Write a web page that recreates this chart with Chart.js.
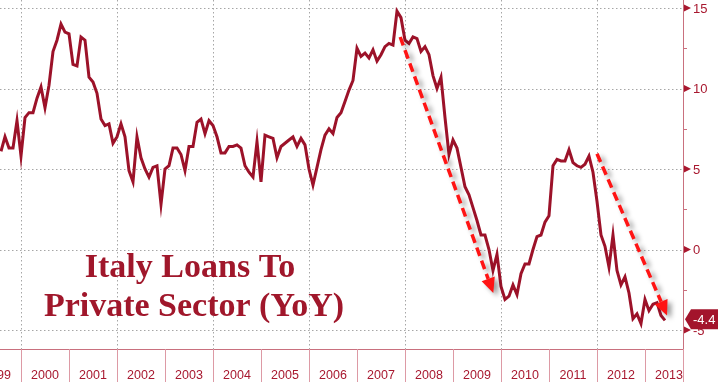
<!DOCTYPE html>
<html>
<head>
<meta charset="utf-8">
<title>Italy Loans To Private Sector (YoY)</title>
<script src="https://cdn.jsdelivr.net/npm/chart.js@4.4.1/dist/chart.umd.min.js"></script>
<style>
  html, body { margin: 0; padding: 0; background: #fff; }
  canvas { display: block; }
</style>
</head>
<body>
<canvas id="loansChart" width="718" height="382"></canvas>
<script>
// Italy - loans to private sector, YoY %, monthly from Aug 1999
const startYear = 1999;
const startMonth = 8;
const loansYoY = [
    6.1, 7.0, 6.3, 6.3, 8.0,                                              // 1999
    5.8, 8.2, 8.5, 8.5, 9.4, 10.1, 8.8, 10.2, 12.3, 13.0, 14.0, 13.5,     // 2000
    13.4, 11.5, 11.4, 13.2, 13.0, 10.7, 10.4, 9.7, 8.1, 7.7, 7.8, 6.6,    // 2001
    7.0, 7.8, 7.0, 4.9, 4.2, 7.0, 5.7, 5.0, 4.5, 5.1, 5.2, 2.8,           // 2002
    5.0, 5.2, 6.3, 6.3, 5.9, 4.9, 6.4, 6.4, 7.9, 8.1, 7.2, 8.0,           // 2003
    7.7, 7.0, 6.0, 6.0, 6.4, 6.4, 6.5, 6.3, 5.2, 4.8, 4.5, 6.7,           // 2004
    4.2, 7.1, 7.0, 6.9, 5.7, 6.4, 6.6, 6.8, 7.0, 6.4, 6.9, 6.5,           // 2005
    5.0, 4.0, 5.1, 6.2, 7.1, 7.5, 7.2, 8.2, 8.5, 9.2, 9.9, 10.5,          // 2006
    12.5, 12.0, 12.2, 11.9, 12.4, 11.7, 12.1, 12.6, 12.8, 12.7, 14.8, 14.4, // 2007
    13.0, 12.8, 13.2, 13.1, 12.3, 12.6, 12.1, 10.8, 10.0, 10.7, 8.2, 5.9, // 2008
    6.8, 6.3, 5.1, 3.9, 3.4, 2.6, 1.8, 0.9, 0.9, 0.0, -1.3, -0.3,         // 2009
    -2.3, -3.1, -2.9, -2.2, -2.8, -1.5, -0.9, -0.9, 0.0, 0.8, 0.9, 1.7,   // 2010
    2.1, 5.2, 5.6, 5.5, 5.5, 6.2, 5.4, 5.2, 5.1, 5.3, 5.8, 4.8,           // 2011
    3.0, 0.9, 0.2, -1.1, 0.9, -1.3, -2.2, -1.7, -2.7, -4.3, -4.0, -4.6,   // 2012
    -3.1, -3.8, -3.4, -3.3, -4.1, -4.4                                    // 2013
];

const yearLabels = [1999, 2000, 2001, 2002, 2003, 2004, 2005, 2006, 2007, 2008, 2009, 2010, 2011, 2012, 2013];
const gridYears = [2000, 2002, 2004, 2006, 2008, 2010, 2012];
const yTicks = [15, 10, 5, 0, -5];
const yMinorTicks = [12.5, 7.5, 2.5, -2.5];

// trend arrows (year, value)
const arrowFromX = [2007.9, 2012.0];
const arrowFromY = [13.2, 5.95];
const arrowToX = [2009.84, 2013.46];
const arrowToY = [-2.7, -4.1];

const titleLines = ['Italy Loans To', 'Private Sector (YoY)'];

const LINE_RED = '#9c1229';
const LABEL_RED = '#a8182f';

const puntos = loansYoY.map((v, i) => ({ x: startYear + (startMonth - 1 + i) / 12, y: v }));

function linha(ctx, x0, y0, x1, y1) {
    ctx.beginPath();
    ctx.moveTo(x0, y0);
    ctx.lineTo(x1, y1);
    ctx.stroke();
}

function desenharSeta(ctx, x0, y0, x1, y1) {
    const ang = Math.atan2(y1 - y0, x1 - x0);
    const headLen = 15, headW = 7;
    const bx = x1 - headLen * Math.cos(ang), by = y1 - headLen * Math.sin(ang);
    ctx.save();
    ctx.shadowColor = 'rgba(0,0,0,0.4)';
    ctx.shadowBlur = 5;
    ctx.shadowOffsetX = 4;
    ctx.shadowOffsetY = 3;
    ctx.strokeStyle = '#ff1414';
    ctx.lineWidth = 3.5;
    ctx.setLineDash([9, 5]);
    linha(ctx, x0, y0, bx, by);
    ctx.setLineDash([]);
    ctx.fillStyle = '#ff1414';
    ctx.beginPath();
    ctx.moveTo(x1, y1);
    ctx.lineTo(bx + headW * Math.sin(ang), by - headW * Math.cos(ang));
    ctx.lineTo(bx - headW * Math.sin(ang), by + headW * Math.cos(ang));
    ctx.closePath();
    ctx.fill();
    ctx.restore();
}

const decoracao = {
    id: 'decoracao',
    beforeDatasetsDraw(chart) {
        const { ctx, chartArea: a, scales: { x, y } } = chart;
        ctx.save();
        // dotted grid
        ctx.strokeStyle = '#a6a6a6';
        ctx.lineWidth = 1;
        ctx.setLineDash([1.5, 2.5]);
        yTicks.forEach(v => {
            const py = Math.round(y.getPixelForValue(v)) + 0.5;
            linha(ctx, a.left, py, a.right, py);
        });
        gridYears.forEach(yr => {
            const px = Math.round(x.getPixelForValue(yr)) + 0.5;
            linha(ctx, px, a.top, px, a.bottom);
        });
        ctx.setLineDash([]);

        // title
        ctx.fillStyle = '#a0172b';
        ctx.font = 'bold 34px "Liberation Serif", "Times New Roman", serif';
        ctx.textAlign = 'center';
        ctx.textBaseline = 'alphabetic';
        ctx.fillText(titleLines[0], 190, 277);
        ctx.fillText(titleLines[1], 194, 316);
        ctx.restore();
    },
    afterDatasetsDraw(chart) {
        const { ctx, chartArea: a, scales: { x, y } } = chart;
        const H = chart.height;

        for (let i = 0; i < arrowFromX.length; i++) {
            desenharSeta(ctx,
                x.getPixelForValue(arrowFromX[i]), y.getPixelForValue(arrowFromY[i]),
                x.getPixelForValue(arrowToX[i]), y.getPixelForValue(arrowToY[i]));
        }

        ctx.save();
        // frame
        ctx.lineWidth = 1;
        ctx.strokeStyle = '#c9707e';
        linha(ctx, a.left, Math.round(a.bottom) + 0.5, a.right + 1, Math.round(a.bottom) + 0.5);
        linha(ctx, Math.round(a.right) + 0.5, a.top, Math.round(a.right) + 0.5, a.bottom);

        // year separators and labels
        ctx.strokeStyle = '#dd9aa5';
        for (let yr = Math.ceil(x.min); yr <= x.max; yr++) {
            const px = Math.round(x.getPixelForValue(yr)) + 0.5;
            linha(ctx, px, a.bottom, px, H);
        }
        linha(ctx, Math.round(a.right) + 0.5, a.bottom, Math.round(a.right) + 0.5, H);

        ctx.fillStyle = LABEL_RED;
        ctx.font = '12.5px "Liberation Sans", Arial, sans-serif';
        ctx.textAlign = 'center';
        ctx.textBaseline = 'alphabetic';
        yearLabels.forEach(yr => {
            ctx.fillText(String(yr), x.getPixelForValue(yr + 0.5), H - 3);
        });

        // right axis
        ctx.strokeStyle = '#c9707e';
        yMinorTicks.forEach(v => {
            const py = Math.round(y.getPixelForValue(v)) + 0.5;
            linha(ctx, a.right, py, a.right + 4, py);
        });
        ctx.font = '13px "Liberation Sans", Arial, sans-serif';
        ctx.textAlign = 'left';
        ctx.textBaseline = 'middle';
        yTicks.forEach(v => {
            const py = y.getPixelForValue(v);
            ctx.beginPath();
            ctx.moveTo(a.right + 1, py - 3.5);
            ctx.lineTo(a.right + 1, py + 3.5);
            ctx.lineTo(a.right + 8, py);
            ctx.closePath();
            ctx.fill();
            ctx.fillText(String(v), a.right + 10, py + 1);
        });

        // last value flag
        const ultimo = loansYoY[loansYoY.length - 1];
        const cy = y.getPixelForValue(ultimo) - 1;
        ctx.fillStyle = '#a3142c';
        ctx.beginPath();
        ctx.moveTo(a.right + 2, cy);
        ctx.lineTo(a.right + 8, cy - 10);
        ctx.lineTo(chart.width, cy - 10);
        ctx.lineTo(chart.width, cy + 10);
        ctx.lineTo(a.right + 8, cy + 10);
        ctx.closePath();
        ctx.fill();
        ctx.fillStyle = '#ffffff';
        ctx.fillText(ultimo.toFixed(1), a.right + 10, cy + 1);
        ctx.restore();
    }
};

new Chart(document.getElementById('loansChart').getContext('2d'), {
    type: 'line',
    data: {
        datasets: [{
            data: puntos,
            borderColor: LINE_RED,
            borderWidth: 3,
            pointRadius: 0,
            tension: 0,
            fill: false
        }]
    },
    options: {
        responsive: false,
        animation: false,
        layout: { padding: 0 },
        plugins: { legend: { display: false }, tooltip: { enabled: false } },
        scales: {
            x: {
                type: 'linear',
                min: 1999.5625,
                max: 2013.792,
                grid: { display: false },
                border: { display: false },
                ticks: { display: false },
                afterFit: s => { s.height = 33; }
            },
            y: {
                position: 'right',
                min: -6.18,
                max: 15.497,
                grid: { display: false },
                border: { display: false },
                ticks: { display: false },
                afterFit: s => { s.width = 35; }
            }
        }
    },
    plugins: [decoracao]
});
</script>
</body>
</html>
